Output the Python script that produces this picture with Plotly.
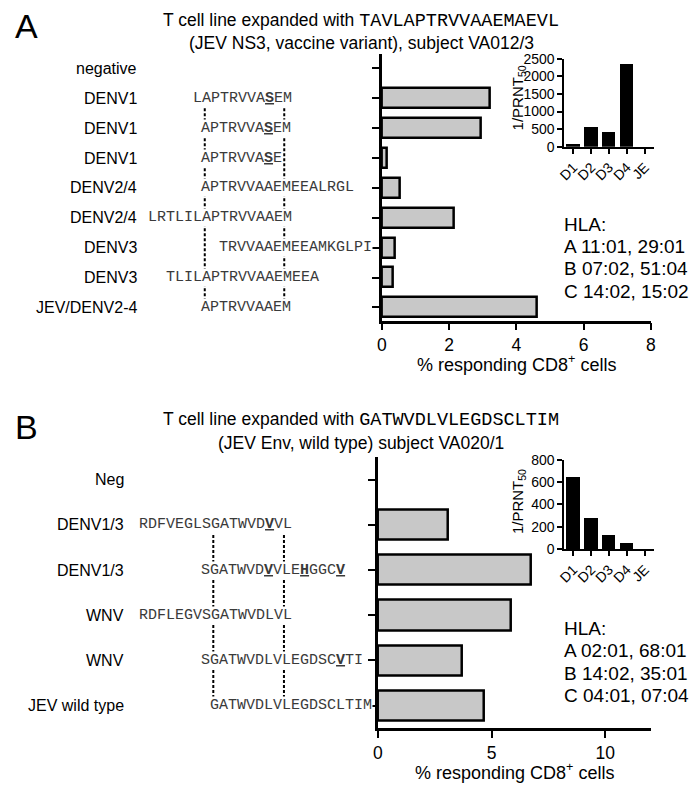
import plotly.graph_objects as go

W, H = 697, 788
SANS = "Liberation Sans, Arial, Helvetica, sans-serif"
MONO = "Liberation Mono, Courier New, monospace"

# ---------------- Panel A data ----------------
a_title1 = "T cell line expanded with "
a_title_pep = "TAVLAPTRVVAAEMAEVL"
a_title2 = "(JEV NS3, vaccine variant), subject VA012/3"
a_labels = ["negative", "DENV1", "DENV1", "DENV1", "DENV2/4", "DENV2/4",
            "DENV3", "DENV3", "JEV/DENV2-4"]
a_seqs = ["", "LAPTRVVASEM", "APTRVVASEM", "APTRVVASE", "APTRVVAAEMEEALRGL",
          "LRTLILAPTRVVAAEM", "TRVVAAEMEEAMKGLPI", "TLILAPTRVVAAEMEEA", "APTRVVAAEM"]
a_offsets = [0, 1, 0, 0, 0, 6, -2, 4, 0]      # residues before the aligned core
a_marked = [[], [8], [7], [7], [], [], [], [], []]
a_core_len = 10
a_values = [0, 3.2, 2.95, 0.15, 0.55, 2.15, 0.38, 0.33, 4.62]
a_xticks = [0, 2, 4, 6, 8]
a_prnt_cats = ["D1", "D2", "D3", "D4", "JE"]
a_prnt = [90, 580, 440, 2350, 0]
a_prnt_ticks = [0, 500, 1000, 1500, 2000, 2500]
a_hla = ["HLA:", "A 11:01, 29:01", "B 07:02, 51:04", "C 14:02, 15:02"]

# ---------------- Panel B data ----------------
b_title1 = "T cell line expanded with "
b_title_pep = "GATWVDLVLEGDSCLTIM"
b_title2 = "(JEV Env, wild type) subject VA020/1"
b_labels = ["Neg", "DENV1/3", "DENV1/3", "WNV", "WNV", "JEV wild type"]
b_seqs = ["", "RDFVEGLSGATWVDVVL", "SGATWVDVVLEHGGCV", "RDFLEGVSGATWVDLVL",
          "SGATWVDLVLEGDSCVTI", "GATWVDLVLEGDSCLTIM"]
b_offsets = [0, 8, 1, 8, 1, 0]
b_marked = [[], [14], [7, 11, 15], [], [15], []]
b_core_len = 9
b_values = [0, 3.1, 6.72, 5.87, 3.71, 4.65]
b_xticks = [0, 5, 10]
b_prnt_cats = ["D1", "D2", "D3", "D4", "JE"]
b_prnt = [650, 285, 125, 60, 0]
b_prnt_ticks = [0, 200, 400, 600, 800]
b_hla = ["HLA:", "A 02:01, 68:01", "B 14:02, 35:01", "C 04:01, 07:04"]


def px(x):
    return x / W


def py(y):
    return 1 - y / H


def markup(seq, marked):
    out = []
    for i, c in enumerate(seq):
        if i in marked:
            out.append("<b><span style='text-decoration:underline'>%s</span></b>" % c)
        else:
            out.append(c)
    return "".join(out)


fig = go.Figure()
annotations = []
shapes = []

CHAR_W = 9.0  # px per residue at 15px mono
SEQ_FS = 15


def panel(values, labels, seqs, offsets, marked, core_len, prnt_cats, prnt, prnt_ticks,
          hla, xticks, xmax, t1, tpep, t2, letter,
          xa, ya, xa2, ya2, xdom, ydom, yrange, x2dom, y2dom,
          label_right, col0, title_y, letter_y, hla_y0, xtitle_y, ytitle_y, xtitle_x):
    n = len(values)
    rows = list(range(n))
    fig.add_trace(go.Bar(
        x=values, y=rows, orientation="h", width=0.67,
        marker=dict(color="#c8c8c8",
                    line=dict(color="black", width=[2.5 if v else 0 for v in values])),
        xaxis=xa, yaxis=ya, showlegend=False, hoverinfo="x"))
    fig.add_trace(go.Bar(
        x=prnt_cats, y=prnt, width=0.76,
        marker=dict(color="black", line=dict(width=0)),
        xaxis=xa2, yaxis=ya2, showlegend=False))

    axis_common = dict(showline=True, linecolor="black", showgrid=False, zeroline=False,
                       ticks="outside", tickcolor="black")
    xk = "xaxis" + xa[1:]
    yk = "yaxis" + ya[1:]
    x2k = "xaxis" + xa2[1:]
    y2k = "yaxis" + ya2[1:]
    fig.layout[xk] = dict(domain=xdom, anchor=ya, range=[0, xmax], tickvals=xticks,
                          ticklen=7, tickwidth=2, linewidth=2.5,
                          tickfont=dict(family=SANS, size=17.5, color="black"), **axis_common)
    fig.layout[yk] = dict(domain=ydom, anchor=xa, range=yrange, tickvals=rows,
                          showticklabels=False, ticklen=7, tickwidth=2, linewidth=2.5,
                          **axis_common)
    fig.layout[x2k] = dict(domain=x2dom, anchor=ya2, type="category", range=[-0.5, 4.5],
                           ticklen=5, tickwidth=1.5, linewidth=2, tickangle=-45,
                           tickfont=dict(family=SANS, size=14, color="black"), **axis_common)
    fig.layout[y2k] = dict(domain=y2dom, anchor=xa2, range=[0, prnt_ticks[-1]],
                           tickvals=prnt_ticks, ticklen=5, tickwidth=1.5, linewidth=2,
                           tickfont=dict(family=SANS, size=14, color="black"), **axis_common)

    # row labels and sequences
    for i in rows:
        annotations.append(dict(xref="paper", yref=ya, x=px(label_right), y=i,
                                text=labels[i], showarrow=False, xanchor="right",
                                yanchor="middle",
                                font=dict(family=SANS, size=16, color="black")))
        if seqs[i]:
            annotations.append(dict(xref="paper", yref=ya,
                                    x=px(col0 - offsets[i] * CHAR_W), y=i,
                                    text=markup(seqs[i], marked[i]), showarrow=False,
                                    xanchor="left", yanchor="middle", borderpad=0,
                                    bgcolor="white",
                                    font=dict(family=MONO, size=SEQ_FS, color="#3a3a3a")))
    # dashed alignment lines through the first and last residue of the core
    for c in (0, core_len - 1):
        xx = px(col0 + (c + 0.5) * CHAR_W)
        shapes.append(dict(type="line", xref="paper", yref=ya, x0=xx, x1=xx,
                           y0=1, y1=n - 1, layer="below",
                           line=dict(color="black", width=2, dash="3px,2px")))
    # titles
    annotations.append(dict(xref="paper", yref="paper", x=px(360), y=py(title_y),
                            text=t1 + "<span style='font-family:%s;font-size:18.5px'>%s</span>" % (MONO, tpep),
                            showarrow=False, xanchor="center", yanchor="middle",
                            font=dict(family=SANS, size=17.5, color="black")))
    annotations.append(dict(xref="paper", yref="paper", x=px(360), y=py(title_y + 23),
                            text=t2, showarrow=False, xanchor="center", yanchor="middle",
                            font=dict(family=SANS, size=17.5, color="black")))
    annotations.append(dict(xref="paper", yref="paper", x=px(5), y=py(letter_y),
                            text=letter, showarrow=False, xanchor="left", yanchor="middle",
                            font=dict(family=SANS, size=34, color="black")))
    # HLA block
    for k, line in enumerate(hla):
        annotations.append(dict(xref="paper", yref="paper", x=px(565), y=py(hla_y0 + 22.8 * k),
                                text=line, showarrow=False, xanchor="left", yanchor="middle",
                                font=dict(family=SANS, size=19, color="black")))
    # axis titles
    annotations.append(dict(xref="paper", yref="paper", x=px(xtitle_x), y=py(xtitle_y),
                            text="% responding CD8<sup>+</sup> cells", showarrow=False,
                            xanchor="center", yanchor="middle",
                            font=dict(family=SANS, size=18, color="black")))
    annotations.append(dict(xref="paper", yref="paper", x=px(520), y=py(ytitle_y),
                            text="1/PRNT<sub>50</sub>", showarrow=False, textangle=-90,
                            xanchor="center", yanchor="middle",
                            font=dict(family=SANS, size=15, color="black")))


panel(a_values, a_labels, a_seqs, a_offsets, a_marked, a_core_len, a_prnt_cats, a_prnt,
      a_prnt_ticks, a_hla, a_xticks, 8, a_title1, a_title_pep, a_title2, "A",
      "x", "y", "x2", "y2",
      [px(381), px(655)], [py(319), py(47)], [8.44, -0.48],
      [px(567), px(658)], [py(141.7), py(51.7)],
      label_right=133, col0=196, title_y=13, letter_y=18, hla_y0=220.5,
      xtitle_y=363, ytitle_y=92, xtitle_x=518)

panel(b_values, b_labels, b_seqs, b_offsets, b_marked, b_core_len, b_prnt_cats, b_prnt,
      b_prnt_ticks, b_hla, b_xticks, 12, b_title1, b_title_pep, b_title2, "B",
      "x3", "y3", "x4", "y4",
      [px(377), px(655)], [py(735), py(458)], [5.5, -0.51],
      [px(567), px(658)], [py(552.3), py(461)],
      label_right=120, col0=204.7, title_y=421, letter_y=428, hla_y0=633.5,
      xtitle_y=779, ytitle_y=504, xtitle_x=516)

fig.update_layout(width=W, height=H, margin=dict(l=0, r=0, t=0, b=0),
                  paper_bgcolor="white", plot_bgcolor="white", bargap=0,
                  annotations=annotations, shapes=shapes, showlegend=False)

fig.write_html("out.html",
               config={"displayModeBar": False},
               post_script="document.body.style.margin='0px';"
                           "var gd=document.getElementById('{plot_id}');"
                           "gd.style.position='fixed';gd.style.left='0px';gd.style.top='0px';")
